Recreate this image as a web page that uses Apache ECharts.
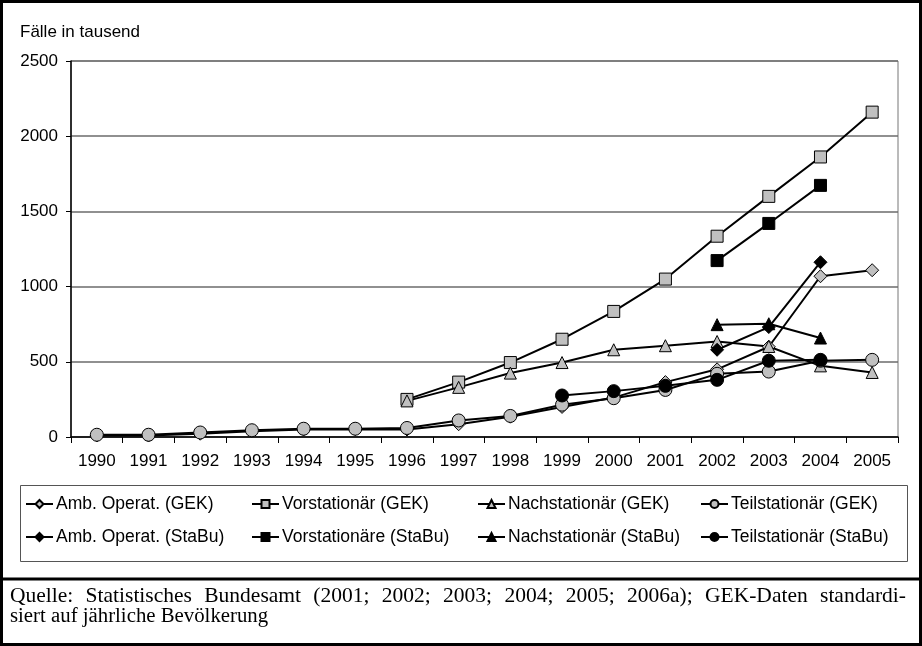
<!DOCTYPE html>
<html>
<head>
<meta charset="utf-8">
<script src="https://cdn.jsdelivr.net/npm/echarts@6/dist/echarts.min.js"></script>
<style>
	html, body { margin: 0; padding: 0; background: #fff; }
	#wrap { position: relative; width: 922px; height: 646px; }
	#main { width: 922px; height: 646px; }
	.src { position: absolute; left: 10px; width: 896px; font-family: 'Liberation Serif', serif; line-height: 20px; color: #000; white-space: nowrap; }
	#src1 { top: 585px; font-size: 21.5px; text-align: justify; text-align-last: justify; white-space: normal; }
	#src2 { top: 605px; font-size: 20.8px; }
</style>
</head>
<body>
<div id="wrap">
	<div id="main"></div>
	<div class="src" id="src1">Quelle: Statistisches Bundesamt (2001; 2002; 2003; 2004; 2005; 2006a); GEK-Daten standardi-</div>
	<div class="src" id="src2">siert auf jährliche Bevölkerung</div>
</div>
<script>
var years = ['1990', '1991', '1992', '1993', '1994', '1995', '1996', '1997',
	'1998', '1999', '2000', '2001', '2002', '2003', '2004', '2005'];
var yTicks = [0, 500, 1000, 1500, 2000, 2500];

// GEK
var ambGEK = [10, 10, 22, 38, 50, 52, 50, 85, 135, 200, 262, 365, 450, 600, 1069, 1109];
var vorGEK = [null, null, null, null, null, null, 250, 365, 495, 650, 835, 1050, 1335, 1600, 1862, 2160];
var nachGEK = [null, null, null, null, null, null, 240, 330, 425, 495, 580, 607, 635, 602, 473, 429];
var teilGEK = [15, 15, 30, 45, 55, 55, 60, 110, 140, 215, 258, 313, 420, 435, 507, 513];
// StaBu
var ambSta = [null, null, null, null, null, null, null, null, null, null, null, null, 580, 731, 1162, null];
var vorSta = [null, null, null, null, null, null, null, null, null, null, null, null, 1173, 1420, 1673, null];
var nachSta = [null, null, null, null, null, null, null, null, null, null, null, null, 747, 753, 658, null];
var teilSta = [null, null, null, null, null, null, null, null, null, 276, 305, 340, 380, 507, 513, null];

var names = ['Amb. Operat. (GEK)', 'Vorstationär (GEK)', 'Nachstationär (GEK)', 'Teilstationär (GEK)',
	'Amb. Operat. (StaBu)', 'Vorstationäre (StaBu)', 'Nachstationär (StaBu)', 'Teilstationär (StaBu)'];

var myChart = echarts.init(document.getElementById('main'));

function line(name, data, symbol, size, fill) {
	return {
		name: name,
		type: 'line',
		data: data,
		symbol: symbol,
		symbolSize: size,
		connectNulls: false,
		animation: false,
		lineStyle: { color: '#000', width: 2 },
		itemStyle: { color: fill, borderColor: '#000', borderWidth: 1 }
	};
}

// content left of each legend column
var legendLeft = [25, 251, 477, 700];
var legends = [];
for (var i = 0; i < 8; i++) {
	legends.push({
		data: [names[i]],
		left: legendLeft[i % 4],
		top: i < 4 ? 495 : 528,
		padding: 0,
		itemWidth: 27,
		itemHeight: 10,
		itemGap: 3,
		selectedMode: false,
		textStyle: { fontFamily: 'Liberation Sans', fontSize: 17.5, color: '#000', padding: [0, 0, 0, -2] }
	});
}

var option = {
	backgroundColor: '#fff',
	animation: false,
	textStyle: { fontFamily: 'Liberation Sans' },
	grid: {
		left: 71,
		right: 24,
		top: 61,
		bottom: 209,
		show: true,
		borderColor: '#777',
		borderWidth: 1
	},
	legend: legends,
	xAxis: {
		type: 'category',
		data: years,
		boundaryGap: true,
		axisLine: { show: true, lineStyle: { color: '#000', width: 1.5 } },
		axisTick: { show: true, length: 6, inside: false, lineStyle: { color: '#000' } },
		axisLabel: { color: '#000', fontSize: 17, margin: 16, fontFamily: 'Liberation Sans' },
		splitLine: { show: false }
	},
	yAxis: {
		type: 'value',
		min: yTicks[0],
		max: yTicks[yTicks.length - 1],
		interval: 500,
		axisLine: { show: true, lineStyle: { color: '#000', width: 1.5 } },
		axisTick: { show: true, length: 5, lineStyle: { color: '#000' } },
		axisLabel: {
			color: '#000', fontSize: 17, margin: 13, fontFamily: 'Liberation Sans',
			formatter: function(v) { return String(v); }
		},
		splitLine: { show: true, lineStyle: { color: '#6b6b6b', width: 1.5 } }
	},
	series: [
		line(names[0], ambGEK, 'diamond', 13, '#c0c0c0'),
		line(names[1], vorGEK, 'rect', 12, '#c0c0c0'),
		line(names[2], nachGEK, 'triangle', 12, '#c0c0c0'),
		line(names[3], teilGEK, 'circle', 13, '#c0c0c0'),
		line(names[4], ambSta, 'diamond', 13, '#000'),
		line(names[5], vorSta, 'rect', 12, '#000'),
		line(names[6], nachSta, 'triangle', 12, '#000'),
		line(names[7], teilSta, 'circle', 13, '#000')
	],
	graphic: [
		{
			type: 'rect',
			shape: { x: 1.5, y: 1.5, width: 919, height: 643 },
			style: { fill: null, stroke: '#000', lineWidth: 3 },
			silent: true
		},
		{
			type: 'line',
			shape: { x1: 0, y1: 579, x2: 922, y2: 579 },
			style: { stroke: '#000', lineWidth: 3 },
			silent: true
		},
		{
			type: 'rect',
			shape: { x: 20.5, y: 485.5, width: 887, height: 76 },
			style: { fill: null, stroke: '#555', lineWidth: 1 },
			silent: true
		},
		{
			type: 'text',
			left: 20,
			top: 24,
			style: { text: 'Fälle in tausend', fontFamily: 'Liberation Sans', fontSize: 17, fill: '#000' }
		}
	]
};
myChart.setOption(option);
</script>
</body>
</html>
